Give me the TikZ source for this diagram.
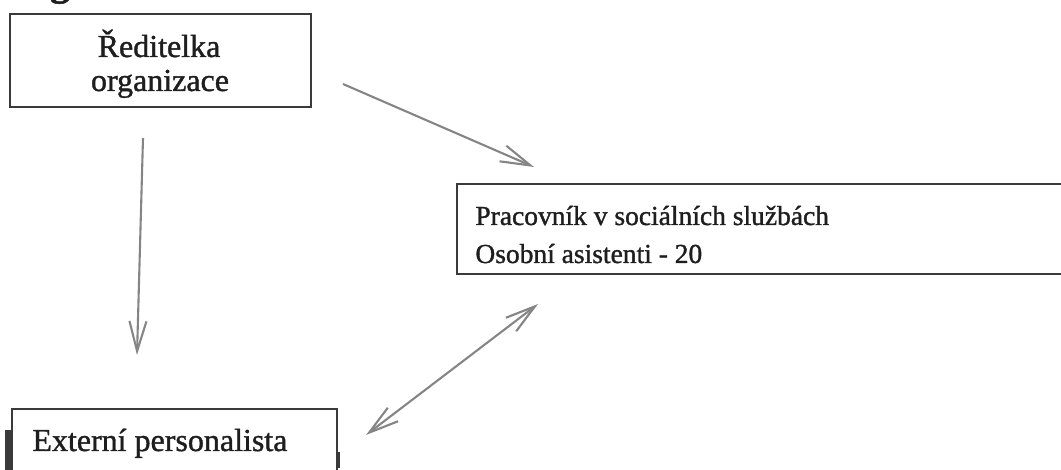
\documentclass[tikz,border=0pt]{standalone}
\usepackage{fontspec}
\setmainfont[FakeBold=1.2]{Liberation Serif}
\usetikzlibrary{arrows.meta}
\definecolor{boxc}{HTML}{3A3A3A}
\definecolor{txtc}{HTML}{1E1E1E}
\definecolor{arrc}{HTML}{858585}
\begin{document}
\begin{tikzpicture}[x=0.5pt,y=-0.5pt,
  box/.style={draw=boxc, line width=1.25pt, rectangle, inner sep=0pt},
  lbl/.style={anchor=base, inner sep=0pt, text=txtc, font=\fontsize{16}{19}\selectfont},
  lblsmall/.style={lbl, anchor=base west, font=\fontsize{13.75}{16}\selectfont},
  barb/.tip={Straight Barb[length=15pt,width=8.5pt]},
  conn/.style={draw=arrc, line width=1.05pt, -{barb}},
  dconn/.style={draw=arrc, line width=1.05pt, {barb}-{barb}},
  scrap/.style={draw=boxc}
  ]
\useasboundingbox (0,0) rectangle (1061,470);
\clip (0,0) rectangle (1061,470);

% fragment of a heading cut off by the top edge
\node[lbl, font=\fontsize{20}{24}\selectfont\bfseries] (frag) at (60,-5) {g};

% boxes
\node[box, minimum width=150.5pt, minimum height=46.5pt] (dir) at (160.5,60.5) {};
\node[lbl] (dirA) at (159,57) {Ředitelka};
\node[lbl] (dirB) at (160,91) {organizace};

\node[box, minimum width=311.5pt, minimum height=45pt] (pra) at (768.5,229) {};
\node[lblsmall] (praA) at (475,225) {Pracovník v sociálních službách};
\node[lblsmall] (praB) at (475,263) {Osobní asistenti - 20};

\node[box, minimum width=162.5pt, minimum height=40.5pt] (ext) at (174.5,449.5) {};
\node[lbl, anchor=base west] (extA) at (32,451) {Externí personalista};

% scan scraps at the bottom edge
\draw[scrap, line width=3pt] (8,430) -- (8,475);
\draw[scrap, line width=1.6pt] (338,452) -- (338,468);

% connectors
\coordinate (a1s) at (343,84);
\coordinate (a1e) at (534,167);
\draw[conn] (a1s) -- (a1e);

\coordinate (a2s) at (143,138);
\coordinate (a2e) at (137,355);
\draw[conn] (a2s) -- (a2e);

\coordinate (a3s) at (366,435);
\coordinate (a3e) at (538,304);
\draw[dconn] (a3s) -- (a3e);
\end{tikzpicture}
\end{document}
